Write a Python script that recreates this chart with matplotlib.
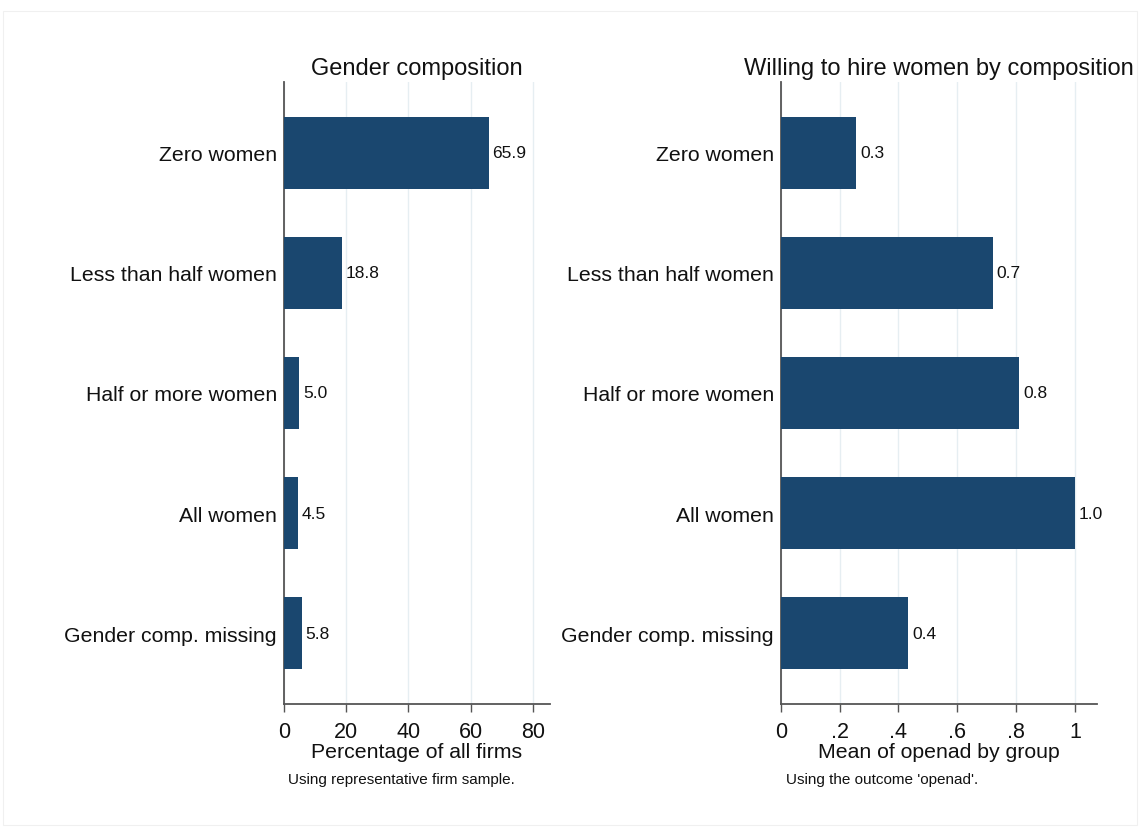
import matplotlib
matplotlib.use("Agg")
import matplotlib.pyplot as plt
import numpy as np

groups = ["Zero women", "Less than half women", "Half or more women",
          "All women", "Gender comp. missing"]
share = [65.9, 18.8, 5.0, 4.5, 5.8]
openad = [0.255, 0.72, 0.81, 1.0, 0.432]

left_ticks = [0, 20, 40, 60, 80]
left_ticklabels = ["0", "20", "40", "60", "80"]
right_ticks = [0, 0.2, 0.4, 0.6, 0.8, 1.0]
right_ticklabels = ["0", ".2", ".4", ".6", ".8", "1"]

bar_col = "#1a476f"
grid_col = "#e6eef2"
txt_col = "#111111"

plt.rcParams["font.family"] = ["Liberation Sans", "DejaVu Sans"]

fig = plt.figure(figsize=(11.4, 8.28), dpi=100)
fig.patches.append(plt.Rectangle((0.003, 0.003), 0.994, 0.983, transform=fig.transFigure,
                                 fill=False, edgecolor="#f0f0f0", lw=0.8))

ax1 = fig.add_axes([0.249, 0.1486, 0.2333, 0.7512])
ax2 = fig.add_axes([0.685, 0.1486, 0.2772, 0.7512])


def panel(ax, vals, ticks, ticklabels, xmax, title, xlabel, note, fmt):
    y = np.arange(len(groups))
    ax.barh(y, vals, height=0.6, color=bar_col, zorder=3)
    for yi, v in zip(y, vals):
        ax.text(v + xmax * 0.013, yi, fmt(v), va="center", ha="left",
                fontsize=12.5, color=txt_col, zorder=4)
    ax.set_ylim(len(groups) - 1 + 0.59, -0.59)
    ax.set_xlim(0, xmax)
    ax.set_yticks(y)
    ax.set_yticklabels(groups, fontsize=15.3, color=txt_col)
    ax.set_xticks(ticks)
    ax.set_xticklabels(ticklabels, fontsize=15.5, color=txt_col)
    ax.tick_params(axis="y", length=0, pad=5)
    ax.tick_params(axis="x", length=6, width=1, color="#555555", pad=6)
    for t in ticks:
        ax.axvline(t, color=grid_col, lw=1, zorder=1)
    for s in ["top", "right"]:
        ax.spines[s].set_visible(False)
    for s in ["left", "bottom"]:
        ax.spines[s].set_color("#555555")
        ax.spines[s].set_linewidth(1.3)
    ax.set_title(title, fontsize=17, color=txt_col, pad=6)
    ax.set_xlabel(xlabel, fontsize=15.3, color=txt_col, labelpad=0)
    ax.text(0.015, -0.11, note, transform=ax.transAxes, fontsize=11,
            color=txt_col, ha="left", va="top")


panel(ax1, share, left_ticks, left_ticklabels, 85.5, "Gender composition",
      "Percentage of all firms", "Using representative firm sample.",
      lambda v: f"{v:.1f}")
panel(ax2, openad, right_ticks, right_ticklabels, 1.075,
      "Willing to hire women by composition", "Mean of openad by group",
      "Using the outcome 'openad'.", lambda v: f"{v:.1f}")

fig.savefig("out.png", dpi=100, facecolor="white")
